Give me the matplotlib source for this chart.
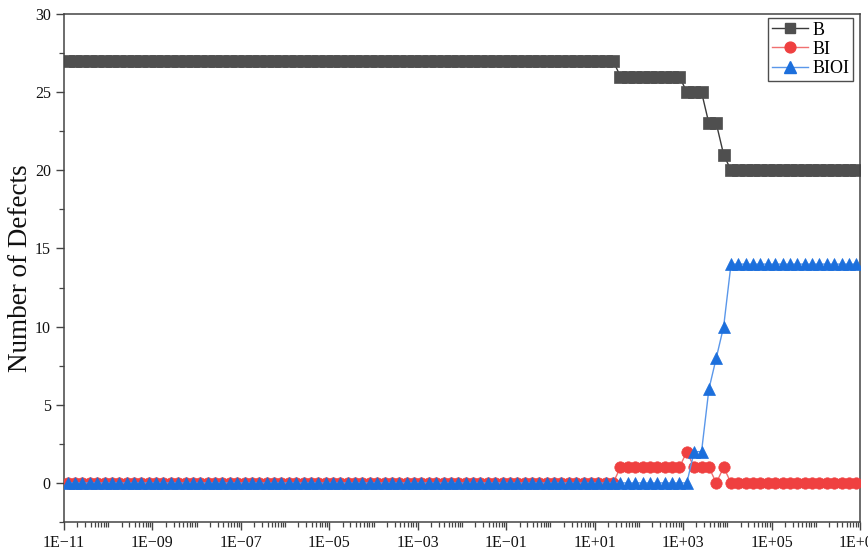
import numpy as np
import matplotlib
matplotlib.use("Agg")
import matplotlib.pyplot as plt
from matplotlib.ticker import FixedLocator, FuncFormatter, MultipleLocator, NullFormatter

plt.rcParams['font.family'] = ['Liberation Serif', 'DejaVu Serif']

# time grid: six output points per decade, 1E-11 .. 1E+07
time = 10 ** (-11 + (np.arange(108) + 0.5) / 6)

# number of defects at each output time
defects_b = [27] * 75 + [26] * 9 + [25] * 3 + [23] * 2 + [21] + [20] * 18
defects_bi = [0] * 75 + [1] * 9 + [2] + [1] * 3 + [0] + [1] + [0] * 18
defects_bioi = [0] * 85 + [2, 2, 6, 8, 10] + [14] * 18

series = [
    ("B", defects_b, "s", "#4f4f4f", "#3a3a3a", 8.0),
    ("BI", defects_bi, "o", "#ef4040", "#f07070", 8.2),
    ("BIOI", defects_bioi, "^", "#1c6fdc", "#5a97ea", 8.6),
]

fig = plt.figure(figsize=(8.68, 5.54), dpi=100)
ax = fig.add_axes([64 / 868, 32 / 554, 796 / 868, 508 / 554])

for z, (name, vals, marker, color, line_color, ms) in enumerate(series):
    ax.plot(time, vals, color=line_color, lw=1.0, zorder=2 + z)
    ax.plot(time, vals, ls="none", marker=marker, ms=ms, color=color,
            markeredgecolor=color, markeredgewidth=0.5, zorder=2 + z)

# legend handles combine the thin line with the marker
handles = [plt.Line2D([], [], color=lc, lw=1.0, marker=m, ms=ms * 0.95,
                      markerfacecolor=c, markeredgecolor=c)
           for _, _, m, c, lc, ms in series]
leg = ax.legend(handles, [s[0] for s in series], loc="upper right",
                bbox_to_anchor=(0.9912, 0.9921), fontsize=13, frameon=True,
                fancybox=False, edgecolor="#222222", handlelength=2.0,
                handletextpad=0.25, borderpad=0.2, labelspacing=0.12,
                borderaxespad=0.0)
leg.get_frame().set_linewidth(1.0)

ax.set_xscale("log")
ax.set_xlim(1e-11, 1e7)
ax.set_ylim(-2.5, 30)

majors = 10.0 ** np.arange(-11, 8, 2)
minors = [m * 10.0 ** d for d in range(-11, 7) for m in range(1, 10)
          if not (m == 1 and d % 2 != 0)]
ax.xaxis.set_major_locator(FixedLocator(majors))
ax.xaxis.set_minor_locator(FixedLocator(minors))


def sci_label(v, pos):
    exp = int(round(np.log10(v)))
    sign = "+" if exp >= 0 else "\u2212"
    return f"1E{sign}{abs(exp):02d}"


ax.xaxis.set_major_formatter(FuncFormatter(sci_label))
ax.xaxis.set_minor_formatter(NullFormatter())
ax.yaxis.set_major_locator(MultipleLocator(5))
ax.yaxis.set_minor_locator(MultipleLocator(2.5))

for side in ["left", "bottom", "top", "right"]:
    ax.spines[side].set_color("#444444")
    ax.spines[side].set_linewidth(1.1)

ax.tick_params(which="major", direction="out", length=6, width=1.0,
               color="#444444", labelsize=11.5, labelcolor="#111111")
ax.tick_params(which="minor", direction="out", length=3.5, width=0.9,
               color="#444444")
ax.tick_params(top=False, right=False, which="both")

ax.set_ylabel("Number of Defects", fontsize=19.5, color="#111111", labelpad=1)

fig.savefig("out.png", dpi=100)
